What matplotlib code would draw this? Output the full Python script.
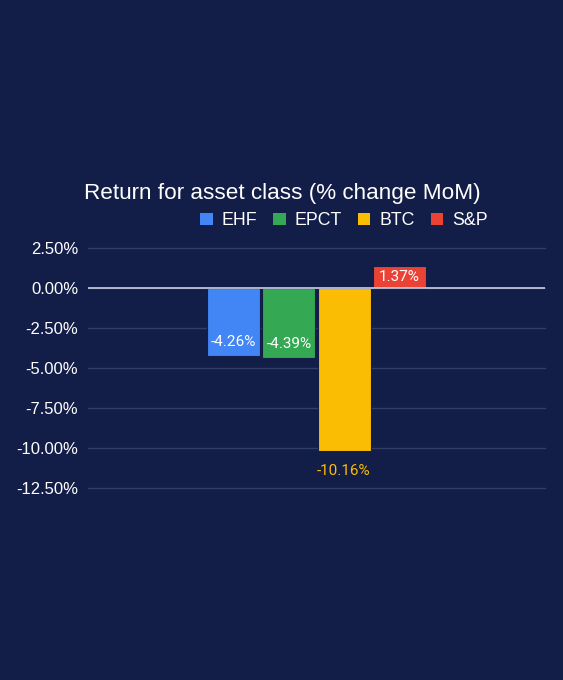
import matplotlib
matplotlib.use("Agg")
import matplotlib.pyplot as plt
from matplotlib.patches import Patch

# ---------------------------------------------------------------------------
# Data
# ---------------------------------------------------------------------------
SERIES = ["EHF", "EPCT", "BTC", "S&P"]
RETURNS = [-4.26, -4.39, -10.16, 1.37]
COLORS = ["#4285f4", "#34a853", "#fbbc04", "#ea4335"]
YTICKS = [2.5, 0.0, -2.5, -5.0, -7.5, -10.0, -12.5]

BG = "#131e48"
GRID = "#323d68"
W, H = 563, 680

plt.rcParams["font.family"] = ["Liberation Sans", "DejaVu Sans"]

fig = plt.figure(figsize=(W / 100, H / 100), dpi=100, facecolor=BG)
ax = fig.add_axes([88 / W, 1 - 488 / H, (545 - 88) / W, 240 / H])
ax.set_facecolor(BG)

step = 0.241
width = 0.232
offsets = [(i - 1.5) * step for i in range(len(SERIES))]
bars = ax.bar(offsets, RETURNS, width=width, color=COLORS,
              edgecolor=BG, linewidth=0.8, zorder=3)

ax.set_xlim(-1, 1)
ax.set_ylim(-12.5, 2.5)
ax.set_yticks(YTICKS)
ax.set_yticklabels([f"{v:.2f}%" for v in YTICKS])
ax.set_xticks([])
ax.tick_params(axis="y", length=0, pad=7, labelsize=12, labelcolor="white")
ax.grid(axis="y", color=GRID, linewidth=1, zorder=0)
for gl in ax.yaxis.get_gridlines():
    gl.set_clip_on(False)
ax.axhline(0, color="#c9cfe3", linewidth=1.2, zorder=4)
for s in ax.spines.values():
    s.set_visible(False)

# value labels
label_font = ["Roboto", "DejaVu Sans"]
for rect, val, col in zip(bars, RETURNS, COLORS):
    x = rect.get_x() + rect.get_width() / 2
    txt = f"{val:.2f}%"
    if val > 0:
        ax.annotate(txt, (x, val / 2), ha="center", va="center",
                    color="white", fontsize=11, family=label_font, zorder=5)
    elif val < -6:
        ax.annotate(txt, (x, val), xytext=(0, -15), textcoords="offset points",
                    ha="center", va="center", color=col, fontsize=11,
                    family=label_font, zorder=5)
    else:
        ax.annotate(txt, (x, val), xytext=(0, 10), textcoords="offset points",
                    ha="center", va="center", color="white", fontsize=11,
                    family=label_font, zorder=5)

fig.text(84 / W, 1 - 193 / H, "Return for asset class (% change MoM)",
         ha="left", va="center", color="white", fontsize=16.2)

handles = [Patch(facecolor=c, edgecolor="none") for c in COLORS]
fig.legend(handles, SERIES, loc="center", bbox_to_anchor=(344 / W, 1 - 221 / H),
           ncol=4, frameon=False, fontsize=12.8, labelcolor="white",
           handlelength=0.7, handleheight=0.7, handletextpad=0.5,
           columnspacing=0.9, borderpad=0)

fig.savefig("out.png", dpi=100, facecolor=BG)
